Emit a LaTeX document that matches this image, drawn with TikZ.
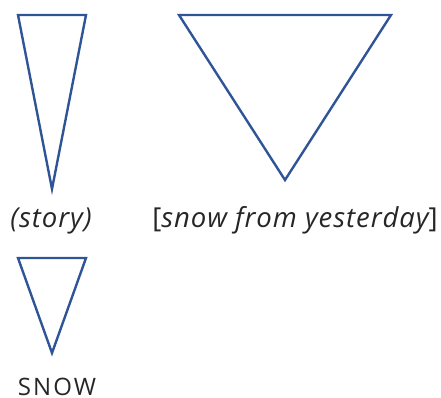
\documentclass[tikz,border=0pt]{standalone}
\usepackage{fontspec}
\setmainfont{Open Sans}
\newfontfamily\itlfont[LetterSpace=3.5]{Open Sans Italic}
\newfontfamily\capfont[LetterSpace=9]{Open Sans}
\definecolor{tri}{HTML}{2F5597}
\definecolor{txt}{HTML}{262626}
\begin{document}
\begin{tikzpicture}[x=1pt,y=-1pt,
  tribox/.style={draw=tri,line width=2.4pt,line join=miter},
  lbl/.style={text=txt,inner sep=0pt,anchor=base}]
\useasboundingbox (0,0) rectangle (441,398);
\draw[tribox] (18,15) -- (86,15) -- (52,189) -- cycle;
\draw[tribox] (179,15) -- (391,15) -- (285,180) -- cycle;
\draw[tribox] (18,258) -- (86,258) -- (52,353) -- cycle;
\node[lbl,font=\itlfont\fontsize{27.5}{31}\selectfont] (story) at (51,227) {(story)};
\node[lbl,font=\fontsize{27.5}{31}\selectfont] (snowy) at (295,227) {[{\itlfont snow from yesterday}]};
\node[lbl,font=\capfont\fontsize{24}{28}\selectfont] (snow) at (57,395) {SNOW};
\end{tikzpicture}
\end{document}
